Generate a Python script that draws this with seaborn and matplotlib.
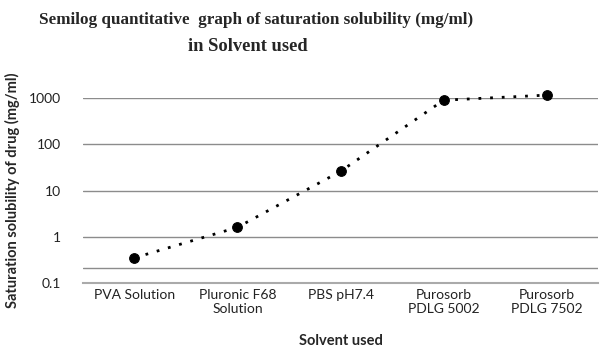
import matplotlib
matplotlib.use("Agg")
import matplotlib.pyplot as plt
import seaborn as sns
import pandas as pd

categories = ["PVA Solution", "Pluronic F68\nSolution", "PBS pH7.4",
              "Purosorb\nPDLG 5002", "Purosorb\nPDLG 7502"]
solubility = [0.35, 1.6, 26, 900, 1160]
y_ticks = [0.1, 1, 10, 100, 1000]
y_tick_labels = ["0.1", "1", "10", "100", "1000"]

df = pd.DataFrame({"solvent": categories, "solubility": solubility})

sns.set_theme(style="white")
plt.rcParams["font.family"] = ["Lato", "DejaVu Sans"]

fig = plt.figure(figsize=(6, 3.58), dpi=100)
ax = fig.add_axes([0.138, 0.2095, 0.859, 0.5165])

ax.set_yscale("log")
for t in y_ticks[1:]:
    ax.axhline(t, color="#8c8c8c", lw=1, zorder=0)
ax.axhline(0.21, color="#8c8c8c", lw=1, zorder=0)

sns.lineplot(data=df, x="solvent", y="solubility", ax=ax, color="black",
             linestyle=(0, (1, 3.2)), lw=2.0, marker="o", markersize=7,
             markeredgecolor="black", sort=False, clip_on=False, zorder=3)

ax.set_ylim(0.1, 1000)
ax.set_xlim(-0.5, 4.5)
ax.set_yticks(y_ticks)
ax.set_yticklabels(y_tick_labels)
ax.minorticks_off()
ax.tick_params(axis="both", length=0, labelsize=10, colors="#222222")
ax.tick_params(axis="x", pad=4)
ax.tick_params(axis="y", pad=16)

for s in ["top", "right", "left"]:
    ax.spines[s].set_visible(False)
ax.spines["bottom"].set_color("#aaaaaa")
ax.spines["bottom"].set_linewidth(1.5)

ax.set_xlabel("Solvent used", fontsize=10.5, fontweight="bold", labelpad=14)
ax.set_ylabel("Saturation solubility of drug (mg/ml)", fontsize=10.5,
              fontweight="bold", labelpad=6)

fig.text(0.427, 0.945, "Semilog quantitative  graph of saturation solubility (mg/ml)",
         ha="center", va="center", fontsize=12.3, fontweight="bold",
         family=["Liberation Serif", "DejaVu Serif"])
fig.text(0.413, 0.87, "in Solvent used", ha="center", va="center",
         fontsize=13.3, fontweight="bold",
         family=["Liberation Serif", "DejaVu Serif"])

fig.savefig("out.png", dpi=100)
